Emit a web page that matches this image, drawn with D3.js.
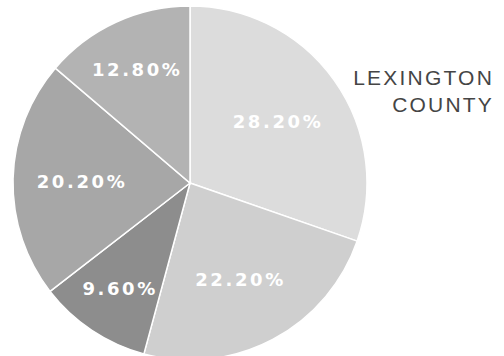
<!DOCTYPE html>
<html>
<head>
<meta charset="utf-8">
<script src="https://cdn.jsdelivr.net/npm/d3@7"></script>
<style>
  html, body { margin: 0; padding: 0; background: #fff; }
  svg { display: block; }
</style>
</head>
<body>
<svg id="chart" width="504" height="356"></svg>
<script>
// slice data, clockwise from 12 o'clock
const labels = ['28.20%', '22.20%', '9.60%', '20.20%', '12.80%'];
const values = [28.2, 22.2, 9.6, 20.2, 12.8];
const colors = ['#dcdcdc', '#cfcfcf', '#8d8d8d', '#a7a7a7', '#b3b3b3'];
const titleLines = ['LEXINGTON', 'COUNTY'];

const svg = d3.select('#chart');
const cx = 190, cy = 183, radius = 177;

const pie = d3.pie().sort(null).value(d => d);
const arcs = pie(values);

const arc = d3.arc().innerRadius(0).outerRadius(radius);

const g = svg.append('g').attr('transform', `translate(${cx},${cy})`);

g.selectAll('path')
  .data(arcs)
  .enter()
  .append('path')
  .attr('d', arc)
  .attr('fill', (d, i) => colors[i])
  .attr('stroke', '#fff')
  .attr('stroke-width', 1.5);

// labels sit a little further out on the narrow slices
const labelRadius = d => (d.endAngle - d.startAngle) < 1 ? 126 : 108;

g.selectAll('text.pct')
  .data(arcs)
  .enter()
  .append('text')
  .attr('class', 'pct')
  .attr('transform', d => {
    const a = (d.startAngle + d.endAngle) / 2;
    const r = labelRadius(d);
    return `translate(${Math.sin(a) * r},${-Math.cos(a) * r})`;
  })
  .attr('text-anchor', 'middle')
  .attr('dy', '0.42em')
  .attr('fill', '#fff')
  .style('font-family', '"DejaVu Sans", sans-serif')
  .style('font-weight', 'bold')
  .style('font-size', '18px')
  .style('letter-spacing', '2.6px')
  .text((d, i) => labels[i]);

// county title
svg.append('g')
  .selectAll('text')
  .data(titleLines)
  .enter()
  .append('text')
  .attr('x', 494)
  .attr('y', (d, i) => 85 + i * 27)
  .attr('text-anchor', 'end')
  .attr('fill', '#454545')
  .style('font-family', '"Liberation Sans", Arial, sans-serif')
  .style('font-size', '21px')
  .style('letter-spacing', '2.2px')
  .text(d => d);
</script>
</body>
</html>
